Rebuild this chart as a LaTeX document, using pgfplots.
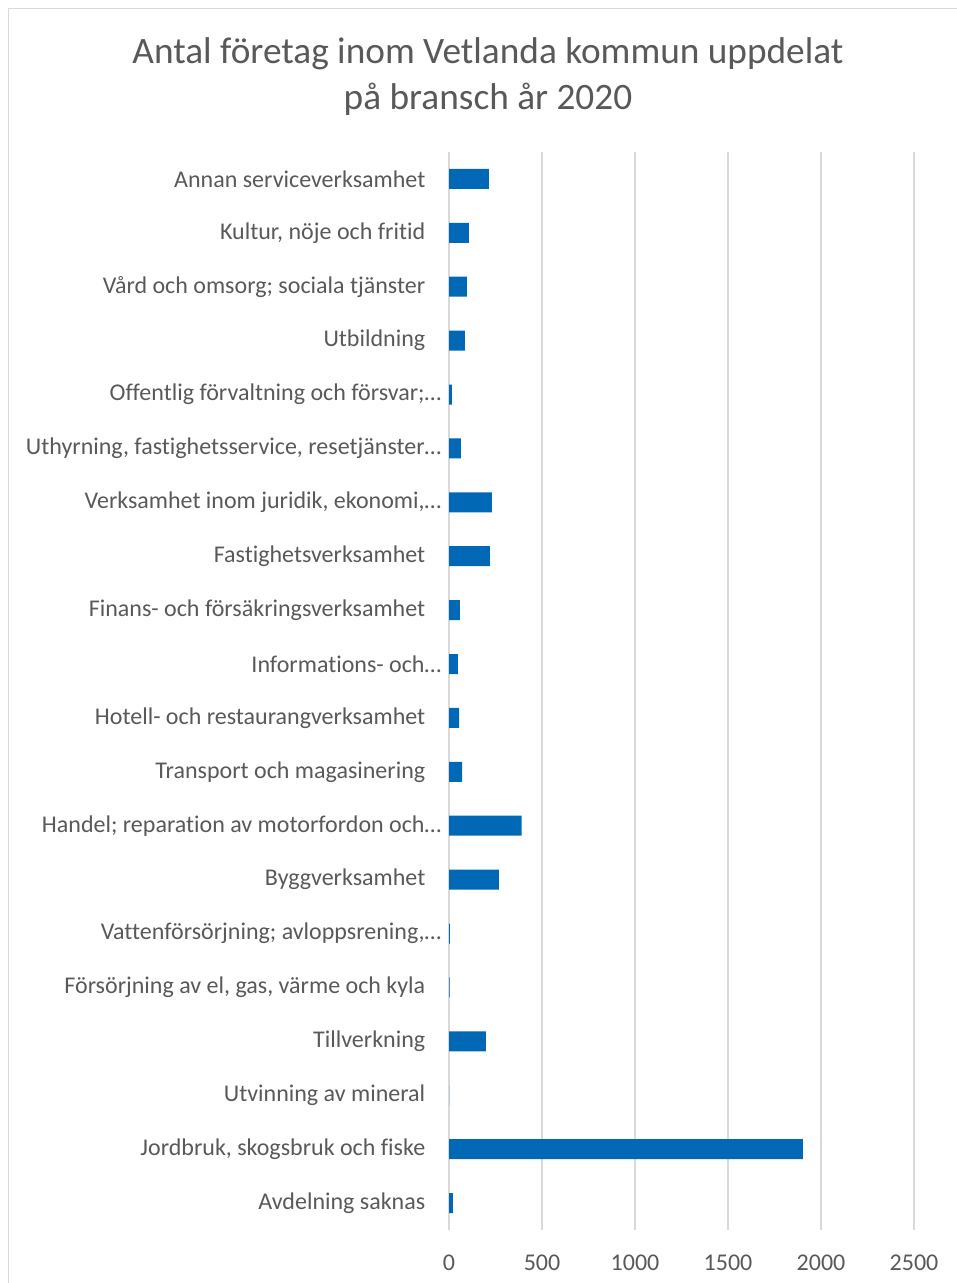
\documentclass[border=0pt]{standalone}
\usepackage{pgfplots}
\pgfplotsset{compat=1.18}
\usepackage{fontspec}
\setmainfont{Carlito}[Ligatures=NoCommon]
\definecolor{barblue}{HTML}{0068B4}
\definecolor{txtgray}{HTML}{595959}
\definecolor{gridgray}{HTML}{D9D9D9}
\newcommand{\tr}[1]{#1\hspace*{-16bp}}
\begin{document}
\begin{tikzpicture}[x=1bp,y=1bp]
\path[use as bounding box] (0,0) rectangle (957,1283);
\draw[gridgray, line width=1.2bp] (8.5,0) -- (8.5,1274.5) -- (960,1274.5);
\begin{axis}[
  at={(449bp,53bp)}, anchor=south west,
  scale only axis, width=465bp, height=1078bp,
  xbar, bar width=20bp,
  xmin=0, xmax=2500,
  ymin=-0.5, ymax=19.5,
  xtick={0,500,1000,1500,2000,2500},
  ytick={0,...,19},
  yticklabels={Avdelning saknas,
    {Jordbruk, skogsbruk och fiske},
    Utvinning av mineral,
    Tillverkning,
    {Försörjning av el, gas, värme och kyla},
    {\tr{Vattenförsörjning; avloppsrening,…}},
    Byggverksamhet,
    {\tr{Handel; reparation av motorfordon och…}},
    Transport och magasinering,
    Hotell- och restaurangverksamhet,
    {\tr{Informations- och…}},
    Finans- och försäkringsverksamhet,
    Fastighetsverksamhet,
    {\tr{Verksamhet inom juridik, ekonomi,…}},
    {\tr{Uthyrning, fastighetsservice, resetjänster…}},
    {\tr{Offentlig förvaltning och försvar;…}},
    Utbildning,
    Vård och omsorg; sociala tjänster,
    {Kultur, nöje och fritid},
    Annan serviceverksamhet},
  axis line style={draw=none},
  major tick style={draw=none},
  xmajorgrids,
  grid style={draw=gridgray, line width=1.3bp},
  /pgf/number format/assume math mode=true,
  /pgf/number format/set thousands separator={},
  tick label style={font=\fontsize{24bp}{28bp}\selectfont, text=txtgray},
  y tick label style={xshift=-16bp},
  x tick label style={yshift=-21bp},
]
\addplot[fill=barblue, draw=none] coordinates {
  (21,0) (1902,1) (0,2) (198,3) (4,4) (5,5) (268,6) (391,7) (70,8) (54,9)
  (48,10) (59,11) (220,12) (230,13) (64,14) (16,15) (86,16) (96,17) (107,18) (214,19)
};
\end{axis}
\node[text=txtgray, align=center, font=\fontsize{37.3bp}{46bp}\selectfont] at (488,1206) {Antal företag inom Vetlanda kommun uppdelat\\på bransch år 2020};
\end{tikzpicture}
\end{document}
